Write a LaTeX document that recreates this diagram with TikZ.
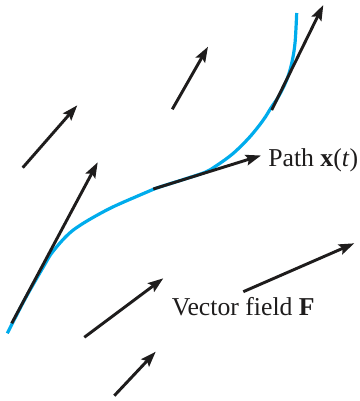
\documentclass[tikz,border=0pt]{standalone}
\usepackage{fontspec}
\setmainfont{Liberation Serif}
\usetikzlibrary{arrows.meta}
\definecolor{pathblue}{RGB}{0,172,236}
\definecolor{vecblack}{RGB}{30,28,28}
\tikzset{
  vec/.style={draw=vecblack, line width=2.2pt, -{Stealth[length=11.5pt,width=8pt,inset=2pt]}},
  pathcurve/.style={draw=pathblue, line width=2.4pt},
  lbl/.style={anchor=base west, inner sep=0pt, text=vecblack, font=\fontsize{19.3}{21}\selectfont}
}
\begin{document}
\begin{tikzpicture}[x=0.75pt,y=-0.75pt]
\useasboundingbox (0,0) rectangle (360,401);
% path x(t)
\draw[pathcurve] plot[smooth, tension=0.55] coordinates {
  (7.3,333.3) (25,299) (43.3,267) (53.3,251) (73.3,230) (106.7,210) (140,195)
  (155,188.6) (185,179) (205,172.3) (216.7,165.5) (233.3,153.3) (250,136.7)
  (263.3,120) (271.7,106.7) (278.3,97) (286.7,80) (291.7,63.3) (295,43.3) (296.7,13)};
% vector endpoints
\coordinate (a0) at (22.7,167.7);  \coordinate (a1) at (77.3,105.3);
\coordinate (b0) at (172.3,109.3); \coordinate (b1) at (208,46.7);
\coordinate (c0) at (271.7,110);   \coordinate (c1) at (323.3,5);
\coordinate (d0) at (153.3,189);   \coordinate (d1) at (261,155.5);
\coordinate (e0) at (11.7,323.3);  \coordinate (e1) at (97.7,162.3);
\coordinate (f0) at (243.3,291.7); \coordinate (f1) at (354.3,243.3);
\coordinate (g0) at (84.3,337.3);  \coordinate (g1) at (163.3,278.3);
\coordinate (h0) at (114.3,395.7); \coordinate (h1) at (155.7,351.7);
\foreach \v in {a,b,c,d,e,f,g,h} \draw[vec] (\v0) -- (\v1);
% labels
\node[lbl] (pathlbl) at (268,166) {Path \textbf{x}(\textit{t})};
\node[lbl] (fieldlbl) at (171.5,315) {Vector field \textbf{F}};
\end{tikzpicture}
\end{document}
